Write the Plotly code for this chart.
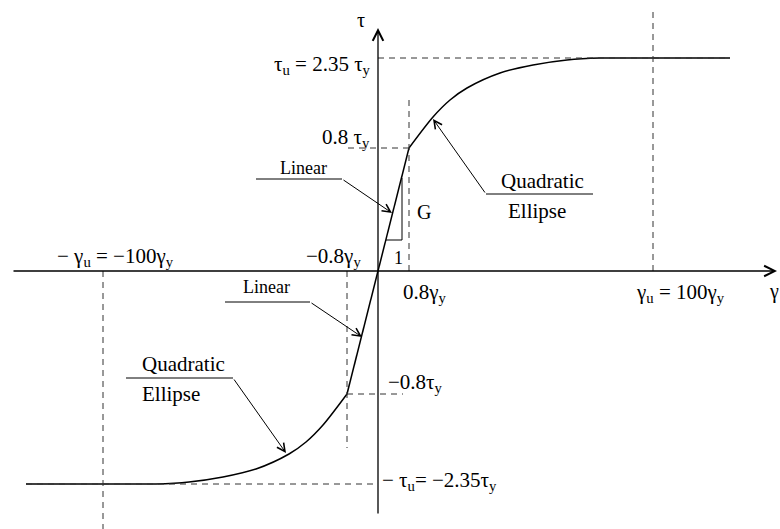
import plotly.graph_objects as go

# Schematic shear stress–strain law, drawn in diagram units (not to scale);
# the origin sits at the crossing of the γ and τ axes.
GAMMA_Y08 = 31      # 0.8 γy
GAMMA_U = 275       # γu = 100 γy
GAMMA_END = 352     # end of the drawn plateau
TAU_Y08 = 123       # 0.8 τy
TAU_U = 213         # τu = 2.35 τy

# linear part through the origin
linear_gamma = [-GAMMA_Y08, 0, GAMMA_Y08]
linear_tau = [-TAU_Y08, 0, TAU_Y08]

# quadratic-ellipse part, positive branch (the negative branch is antisymmetric)
ellipse_gamma = [31, 55, 72, 89, 122, 155, 189, 222, 250, 352]
ellipse_tau = [123, 154, 171, 183, 198, 206, 211, 213, 213, 213]

FONT = "Liberation Serif"
INK = "black"
DASH_COLOR = "#333333"

fig = go.Figure()

# stress–strain curve
fig.add_trace(go.Scatter(x=linear_gamma, y=linear_tau, mode="lines",
                         line=dict(color=INK, width=1.5), hoverinfo="skip"))
fig.add_trace(go.Scatter(x=ellipse_gamma, y=ellipse_tau, mode="lines",
                         line=dict(color=INK, width=1.5, shape="spline", smoothing=0.8),
                         hoverinfo="skip"))
fig.add_trace(go.Scatter(x=[-g for g in ellipse_gamma], y=[-t for t in ellipse_tau],
                         mode="lines",
                         line=dict(color=INK, width=1.5, shape="spline", smoothing=0.8),
                         hoverinfo="skip"))

shapes = []


def seg(x0, y0, x1, y1, dashed=False, width=1.0, color=INK):
    shapes.append(dict(type="line", xref="x", yref="y", x0=x0, y0=y0, x1=x1, y1=y1,
                       line=dict(color=DASH_COLOR if dashed else color,
                                 width=width, dash="6px,5px" if dashed else "solid")))


# dashed guide lines
seg(0, TAU_U, GAMMA_END, TAU_U, dashed=True)
seg(GAMMA_U, 0, GAMMA_U, 259, dashed=True)
seg(-GAMMA_Y08 + 1, TAU_Y08, GAMMA_Y08, TAU_Y08, dashed=True)
seg(GAMMA_Y08, 0, GAMMA_Y08, 176, dashed=True)
seg(-GAMMA_Y08, 0, -GAMMA_Y08, -177, dashed=True)
seg(-GAMMA_Y08, -TAU_Y08, 25, -TAU_Y08, dashed=True)
seg(-GAMMA_END, -TAU_U, 0, -TAU_U, dashed=True)
seg(-GAMMA_U, 0, -GAMMA_U, -262, dashed=True)

# slope triangle (G : 1)
seg(24, 31, 24, 93, width=1.0)
seg(8, 31, 24, 31, width=1.0)

# underlines of the leader labels
seg(-122, 92, -36, 92, width=1.0)
seg(108, 77, 215, 77, width=1.0)
seg(-153, -31, -68, -31, width=1.0)
seg(-252, -107, -145, -107, width=1.0)

annotations = []


def arrow(tail, tip, size=1.6, width=1.0):
    annotations.append(dict(x=tip[0], y=tip[1], ax=tail[0], ay=tail[1],
                            xref="x", yref="y", axref="x", ayref="y",
                            text="", showarrow=True, arrowhead=5,
                            arrowsize=size, arrowwidth=width, arrowcolor=INK,
                            standoff=0, startstandoff=0))


def label(x, y, text, size=21, xanchor="center", yanchor="middle"):
    annotations.append(dict(x=x, y=y, xref="x", yref="y", text=text,
                            showarrow=False, xanchor=xanchor, yanchor=yanchor,
                            font=dict(family=FONT, size=size, color=INK)))


# axes with arrowheads
arrow((-366, 0), (399, 0), size=1.6, width=1.3)
arrow((0, -244), (0, 243), size=1.6, width=1.3)

# leader arrows
arrow((-36, 92), (14, 58))
arrow((108, 77), (55, 152))
arrow((-68, -31), (-16, -66))
arrow((-145, -107), (-92, -182))

# axis titles
label(-17, 251, "τ", size=20)
label(396, -20, "γ", size=20)

# level labels
label(-5, 206, "τ<sub>u</sub> = 2.35 τ<sub>y</sub>", xanchor="right")
label(-6, 133, "0.8 τ<sub>y</sub>", xanchor="right")
label(-15, 14, "−0.8γ<sub>y</sub>", xanchor="right")
label(-263, 14, "− γ<sub>u</sub> = −100γ<sub>y</sub>")
label(47, -22, "0.8γ<sub>y</sub>")
label(302, -22, "γ<sub>u</sub> = 100γ<sub>y</sub>")
label(8, -112, "−0.8τ<sub>y</sub>", xanchor="left")
label(2, -210, "− τ<sub>u</sub>= −2.35τ<sub>y</sub>", xanchor="left")

# slope triangle labels
label(46, 59, "G", size=20)
label(20, 13, "1", size=18)

# region labels
label(-75, 103, "Linear", size=18)
label(164, 90, "Quadratic")
label(159, 60, "Ellipse")
label(-112, -16, "Linear", size=18)
label(-195, -93, "Quadratic")
label(-207, -123, "Ellipse")

fig.update_layout(
    width=780, height=529, autosize=False,
    margin=dict(l=0, r=0, t=0, b=0),
    paper_bgcolor="white", plot_bgcolor="white",
    showlegend=False,
    xaxis=dict(range=[-378, 402], visible=False, fixedrange=True),
    yaxis=dict(range=[-258, 271], visible=False, fixedrange=True),
    shapes=shapes, annotations=annotations,
)

fig.write_html("out.html")
